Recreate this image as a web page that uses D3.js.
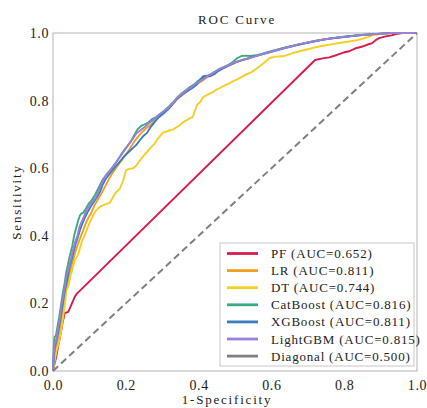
<!DOCTYPE html>
<html>
<head>
<meta charset="utf-8">
<script src="https://cdn.jsdelivr.net/npm/d3@7"></script>
<style>
	body { margin: 0; background: #fff; }
	svg text { font-family: "Liberation Serif", "Times New Roman", serif; fill: #222; }
</style>
</head>
<body>
<div id="grafic"></div>
<script>
// corbes ROC llegides del gràfic: [1-especificitat, sensibilitat]
var noms = ['PF', 'LR', 'DT', 'CatBoost', 'XGBoost', 'LightGBM', 'Diagonal'];
var aucs = ['0.652', '0.811', '0.744', '0.816', '0.811', '0.815', '0.500'];
var colors = ['#d81b4a', '#f0a020', '#f5cf24', '#3aaa80', '#3a7cc0', '#9a80d8', '#808080'];
var ticks = [0, 0.2, 0.4, 0.6, 0.8, 1.0];

var rocPF = [[0,0],[0.004,0.02],[0.009,0.042],[0.014,0.072],[0.019,0.1],[0.026,0.14],[0.032,0.171],[0.042,0.175],[0.05,0.195],[0.06,0.22],[0.065,0.228],[0.72,0.92],[0.74,0.925],[0.759,0.928],[0.78,0.935],[0.8,0.943],[0.814,0.946],[0.832,0.955],[0.85,0.96],[0.865,0.966],[0.877,0.97],[0.888,0.98],[0.896,0.985],[0.914,0.99],[0.93,0.993],[0.942,0.997],[0.96,1.0],[1,1]];

var rocLR = [[0,0],[0.003,0.03],[0.006,0.06],[0.01,0.08],[0.015,0.1],[0.02,0.13],[0.025,0.16],[0.03,0.2],[0.035,0.23],[0.04,0.26],[0.046,0.29],[0.052,0.315],[0.058,0.34],[0.064,0.36],[0.07,0.38],[0.077,0.4],[0.084,0.42],[0.091,0.44],[0.098,0.455],[0.106,0.47],[0.114,0.49],[0.122,0.505],[0.13,0.52],[0.138,0.535],[0.146,0.552],[0.155,0.57],[0.166,0.59],[0.178,0.608],[0.19,0.625],[0.2,0.64],[0.212,0.66],[0.224,0.68],[0.235,0.695],[0.246,0.708],[0.258,0.72],[0.27,0.73],[0.282,0.742],[0.294,0.756],[0.306,0.766],[0.318,0.776],[0.33,0.79],[0.342,0.805],[0.354,0.815],[0.365,0.825],[0.378,0.835],[0.39,0.845],[0.402,0.853],[0.414,0.862],[0.426,0.87],[0.438,0.878],[0.45,0.886],[0.462,0.893],[0.475,0.9],[0.488,0.907],[0.5,0.912],[0.515,0.918],[0.53,0.923],[0.548,0.929],[0.57,0.936],[0.594,0.944],[0.618,0.951],[0.642,0.958],[0.666,0.964],[0.69,0.97],[0.714,0.975],[0.738,0.98],[0.762,0.984],[0.786,0.987],[0.81,0.99],[0.835,0.993],[0.86,0.995],[0.885,0.997],[0.91,0.999],[0.94,1.0],[1,1]];

var rocDT = [[0,0],[0.003,0.02],[0.005,0.033],[0.01,0.06],[0.015,0.08],[0.019,0.1],[0.024,0.13],[0.028,0.16],[0.033,0.2],[0.037,0.24],[0.042,0.25],[0.048,0.28],[0.055,0.309],[0.06,0.328],[0.069,0.345],[0.078,0.378],[0.088,0.405],[0.1,0.437],[0.11,0.46],[0.119,0.476],[0.129,0.486],[0.142,0.492],[0.156,0.498],[0.165,0.515],[0.174,0.53],[0.184,0.54],[0.193,0.565],[0.201,0.595],[0.21,0.598],[0.22,0.6],[0.229,0.608],[0.24,0.625],[0.252,0.64],[0.266,0.658],[0.279,0.673],[0.29,0.69],[0.302,0.705],[0.316,0.71],[0.33,0.715],[0.345,0.725],[0.36,0.738],[0.372,0.745],[0.384,0.752],[0.39,0.77],[0.396,0.788],[0.404,0.795],[0.412,0.81],[0.425,0.818],[0.439,0.825],[0.448,0.832],[0.46,0.838],[0.472,0.845],[0.484,0.851],[0.494,0.857],[0.51,0.865],[0.53,0.877],[0.548,0.886],[0.567,0.901],[0.58,0.912],[0.595,0.926],[0.612,0.93],[0.631,0.931],[0.655,0.939],[0.677,0.946],[0.7,0.952],[0.722,0.958],[0.745,0.963],[0.768,0.967],[0.79,0.971],[0.814,0.975],[0.835,0.979],[0.85,0.983],[0.865,0.988],[0.877,0.993],[0.893,0.996],[0.905,0.998],[0.93,1.0],[1,1]];

var rocCat = [[0,0],[0.002,0.07],[0.004,0.1],[0.008,0.105],[0.012,0.13],[0.017,0.16],[0.022,0.195],[0.027,0.23],[0.032,0.26],[0.036,0.29],[0.042,0.32],[0.047,0.345],[0.053,0.37],[0.058,0.4],[0.063,0.42],[0.069,0.445],[0.074,0.46],[0.078,0.466],[0.083,0.468],[0.09,0.48],[0.098,0.495],[0.106,0.505],[0.115,0.52],[0.122,0.535],[0.13,0.552],[0.136,0.565],[0.146,0.58],[0.158,0.595],[0.17,0.612],[0.18,0.628],[0.19,0.645],[0.2,0.66],[0.212,0.676],[0.222,0.695],[0.232,0.715],[0.242,0.725],[0.252,0.73],[0.262,0.735],[0.272,0.745],[0.285,0.752],[0.296,0.762],[0.308,0.772],[0.318,0.782],[0.33,0.795],[0.342,0.81],[0.352,0.82],[0.364,0.83],[0.376,0.84],[0.388,0.848],[0.398,0.858],[0.41,0.866],[0.422,0.872],[0.433,0.878],[0.445,0.886],[0.458,0.894],[0.47,0.9],[0.482,0.906],[0.495,0.915],[0.505,0.925],[0.518,0.932],[0.53,0.933],[0.542,0.932],[0.558,0.934],[0.58,0.94],[0.605,0.948],[0.63,0.955],[0.655,0.961],[0.68,0.967],[0.702,0.972],[0.725,0.977],[0.75,0.982],[0.772,0.985],[0.795,0.988],[0.82,0.991],[0.845,0.994],[0.87,0.996],[0.9,0.998],[0.935,1.0],[1,1]];

var rocXG = [[0,0],[0.002,0.04],[0.005,0.07],[0.009,0.088],[0.014,0.115],[0.019,0.145],[0.024,0.18],[0.029,0.215],[0.034,0.245],[0.039,0.27],[0.044,0.3],[0.05,0.325],[0.056,0.35],[0.062,0.375],[0.068,0.395],[0.075,0.42],[0.082,0.44],[0.088,0.455],[0.095,0.47],[0.103,0.485],[0.112,0.5],[0.121,0.515],[0.129,0.53],[0.136,0.55],[0.143,0.565],[0.153,0.58],[0.166,0.598],[0.178,0.612],[0.19,0.628],[0.2,0.64],[0.21,0.65],[0.22,0.66],[0.229,0.669],[0.238,0.682],[0.248,0.695],[0.257,0.703],[0.267,0.72],[0.278,0.735],[0.29,0.75],[0.302,0.76],[0.314,0.772],[0.326,0.786],[0.338,0.802],[0.35,0.814],[0.36,0.822],[0.372,0.83],[0.384,0.838],[0.394,0.846],[0.404,0.862],[0.413,0.872],[0.422,0.874],[0.432,0.872],[0.443,0.878],[0.455,0.888],[0.467,0.895],[0.48,0.902],[0.492,0.908],[0.505,0.915],[0.52,0.92],[0.536,0.924],[0.55,0.93],[0.572,0.936],[0.595,0.943],[0.62,0.95],[0.642,0.957],[0.665,0.963],[0.69,0.969],[0.712,0.974],[0.735,0.979],[0.758,0.983],[0.78,0.986],[0.805,0.989],[0.828,0.992],[0.85,0.994],[0.875,0.996],[0.9,0.998],[0.928,1.0],[1,1]];

var rocLGBM = [[0,0],[0.002,0.05],[0.005,0.08],[0.009,0.092],[0.013,0.12],[0.018,0.15],[0.023,0.19],[0.028,0.22],[0.033,0.25],[0.037,0.279],[0.043,0.305],[0.049,0.33],[0.055,0.358],[0.062,0.385],[0.067,0.4],[0.073,0.427],[0.08,0.445],[0.086,0.46],[0.092,0.476],[0.1,0.49],[0.108,0.5],[0.119,0.516],[0.126,0.535],[0.132,0.55],[0.138,0.567],[0.15,0.585],[0.165,0.604],[0.175,0.62],[0.184,0.634],[0.195,0.65],[0.208,0.67],[0.218,0.685],[0.229,0.703],[0.24,0.712],[0.252,0.722],[0.263,0.733],[0.275,0.742],[0.288,0.755],[0.3,0.765],[0.31,0.772],[0.321,0.783],[0.335,0.8],[0.348,0.815],[0.357,0.822],[0.368,0.832],[0.38,0.84],[0.392,0.85],[0.403,0.857],[0.415,0.865],[0.426,0.874],[0.437,0.88],[0.448,0.887],[0.46,0.895],[0.472,0.9],[0.483,0.905],[0.494,0.911],[0.51,0.917],[0.525,0.922],[0.54,0.926],[0.562,0.933],[0.585,0.941],[0.608,0.947],[0.631,0.954],[0.655,0.96],[0.677,0.967],[0.7,0.972],[0.722,0.977],[0.745,0.981],[0.768,0.985],[0.79,0.988],[0.814,0.99],[0.837,0.993],[0.859,0.995],[0.882,0.997],[0.905,0.998],[0.93,1.0],[1,1]];

var rocDiag = [[0,0],[1,1]];

var corbes = [rocPF, rocLR, rocDT, rocCat, rocXG, rocLGBM, rocDiag];

var Amplada = 427, Alçada = 408;
var marge = {dalt: 33, dreta: 10, baix: 37, esquerra: 53};
var amplada = Amplada - marge.esquerra - marge.dreta,
	alçada = Alçada - marge.dalt - marge.baix;

var plànol = d3.select('#grafic')
	.append('svg')
		.attr('width', Amplada)
		.attr('height', Alçada);

var llenç = plànol.append('g')
	.attr('transform', `translate(${marge.esquerra},${marge.dalt})`);

var x = d3.scaleLinear().domain([0, 1]).range([0, amplada]);
var y = d3.scaleLinear().domain([0, 1]).range([alçada, 0]);

// eixos sense marques
var eixX = llenç.append('g')
	.attr('transform', `translate(0,${alçada})`)
	.call(d3.axisBottom(x).tickValues(ticks).tickSize(0).tickPadding(6).tickFormat(d3.format('.1f')));
var eixY = llenç.append('g')
	.call(d3.axisLeft(y).tickValues(ticks).tickSize(0).tickPadding(4).tickFormat(d3.format('.1f')));
[eixX, eixY].forEach(e => {
	e.select('.domain').remove();
	e.selectAll('text')
		.attr('font-size', 14)
		.attr('font-family', '"Liberation Serif", serif')
		.attr('fill', '#1a1a1a')
		.style('letter-spacing', '0.6px');
});
eixX.selectAll('text').attr('dy', '0.95em');

// vora del plànol
llenç.append('rect')
	.attr('width', amplada)
	.attr('height', alçada)
	.attr('fill', 'none')
	.attr('stroke', '#b4b4b4')
	.attr('stroke-width', 1);

var línia = d3.line()
	.x(d => x(d[0]))
	.y(d => y(d[1]));

llenç.append('g')
	.selectAll('path')
	.data(corbes)
	.enter()
	.append('path')
		.attr('d', d => línia(d))
		.attr('fill', 'none')
		.attr('stroke', (d, i) => colors[i])
		.attr('stroke-width', (d, i) => i === 6 ? 2 : 1.9)
		.attr('stroke-dasharray', (d, i) => i === 6 ? '7,4' : null)
		.attr('stroke-linejoin', 'round');

// títol i etiquetes
plànol.append('text')
	.attr('x', marge.esquerra + amplada / 2 + 2)
	.attr('y', 24)
	.attr('text-anchor', 'middle')
	.attr('font-size', 13)
	.style('letter-spacing', '1.8px')
	.text('ROC Curve');

plànol.append('text')
	.attr('x', marge.esquerra + amplada / 2 - 8)
	.attr('y', 404)
	.attr('text-anchor', 'middle')
	.attr('font-size', 13)
	.style('letter-spacing', '1.8px')
	.text('1-Specificity');

plànol.append('text')
	.attr('transform', `translate(21,${marge.dalt + alçada / 2}) rotate(-90)`)
	.attr('text-anchor', 'middle')
	.attr('font-size', 13)
	.style('letter-spacing', '1.8px')
	.text('Sensitivity');

// llegenda
var llegenda = plànol.append('g')
	.attr('transform', 'translate(220,243)');

llegenda.append('rect')
	.attr('width', 194)
	.attr('height', 123)
	.attr('fill', '#fff')
	.attr('stroke', '#c8c8c8')
	.attr('stroke-width', 1);

var fila = llegenda.selectAll('g.fila')
	.data(noms)
	.enter()
	.append('g')
		.attr('class', 'fila')
		.attr('transform', (d, i) => `translate(0,${10.5 + i * 17.1})`);

fila.append('line')
	.attr('x1', 7)
	.attr('x2', 38)
	.attr('stroke', (d, i) => colors[i])
	.attr('stroke-width', 2.8);

fila.append('text')
	.attr('x', 51)
	.attr('dy', '0.35em')
	.attr('font-size', 13)
	.style('letter-spacing', '0.8px')
	.text((d, i) => `${d} (AUC=${aucs[i]})`);
</script>
</body>
</html>
